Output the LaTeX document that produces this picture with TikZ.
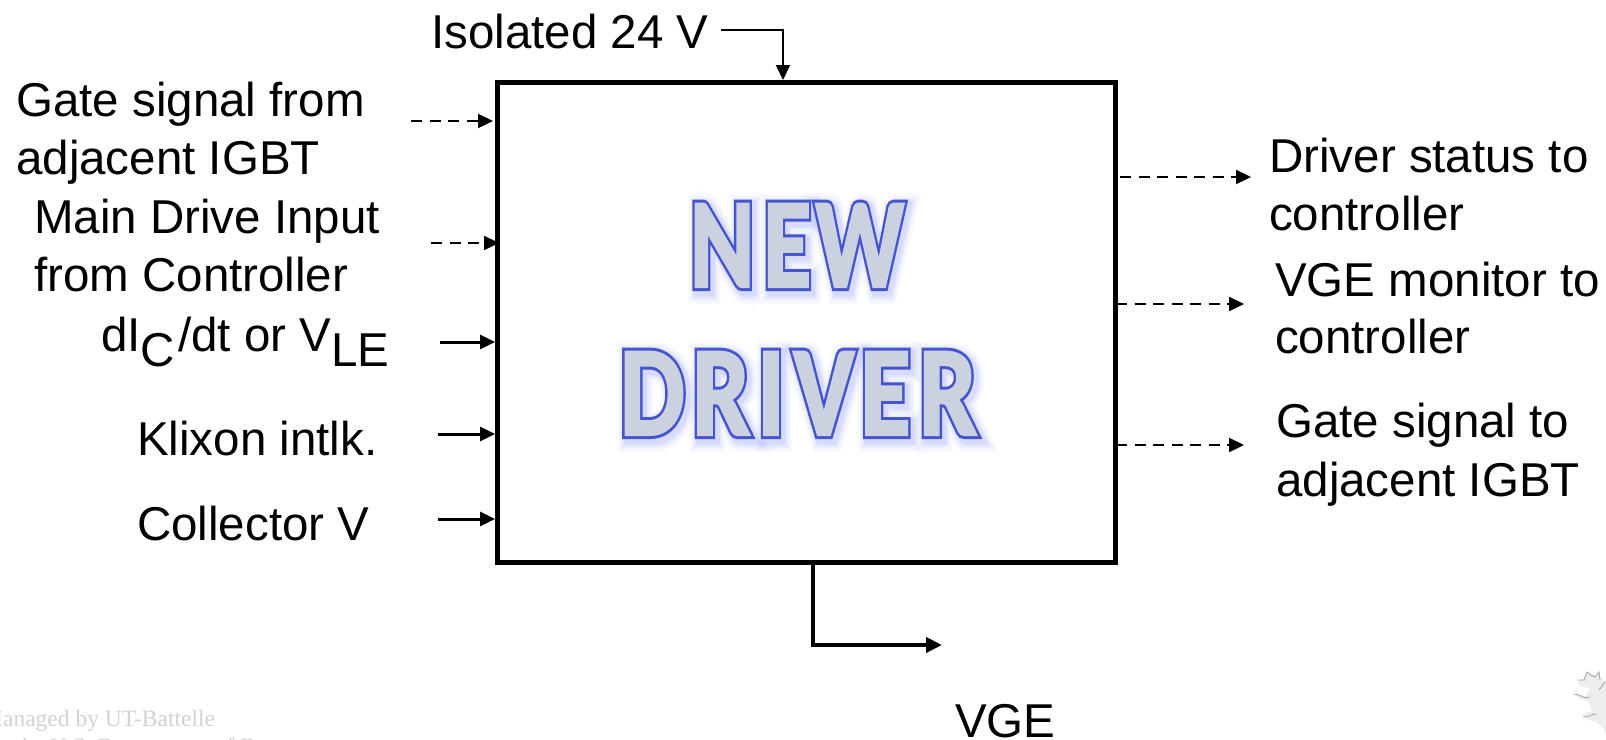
\documentclass[tikz,border=0pt]{standalone}
\usepackage{fontspec}
\setmainfont{Liberation Sans}
\newfontfamily\serfont{Liberation Serif}
\newfontfamily\bigfont{Carlito}
\usetikzlibrary{arrows.meta}
\newcommand{\outl}[2]{\fontsize{127pt}{127pt}\bigfont\bfseries\selectfont\special{pdf:code q 2 Tr 0 j 4 M #2 w #1}}
\newcommand{\outlend}{\special{pdf:code Q}}
\newcommand{\wordnew}{N\kern12pt E\kern6pt W}
\newcommand{\worddriver}{D\kern10pt R\kern9pt I\kern11pt V\kern8pt E\kern11pt R}
\tikzset{
  lab/.style={anchor=base west,inner sep=0pt,font=\fontsize{47.5pt}{47.5pt}\selectfont,text=black},
  thin solid arrow/.style={line width=2pt,-{Triangle[length=15pt,width=14pt]}},
  solid arrow/.style={line width=3pt,-{Triangle[length=15pt,width=14pt]}},
  dash arrow/.style={line width=2.3pt,dash pattern=on 11pt off 7.5pt,-{Triangle[length=15pt,width=14pt]}},
  big/.style={anchor=base,inner sep=0pt},
  foot/.style={anchor=base west,inner sep=0pt,text=wm,font=\serfont\fontsize{23.5pt}{23.5pt}\selectfont},
}
\definecolor{wm}{HTML}{D2D2D2}
\begin{document}
\begin{tikzpicture}[x=1pt,y=-1pt]
\useasboundingbox (0,0) rectangle (1606,739);
\clip (0,0) rectangle (1606,739);
% driver box
\node[draw=black,line width=5pt,fill=white,outer sep=0pt,minimum width=618pt,minimum height=480pt,inner sep=0pt,anchor=north west] (box) at (497,82) {};
% glow
\foreach \w/\o in {28/0.04,22/0.05,17/0.07,13/0.09}{
  \node[big,opacity=\o] (g1\w) at (800,290) {\scalebox{.768}[1]{\outl{0.35 0.40 1 rg 0.35 0.40 1 RG}{\w}\wordnew\outlend}};
  \node[big,opacity=\o] (g2\w) at (801.5,438) {\scalebox{.806}[1]{\outl{0.35 0.40 1 rg 0.35 0.40 1 RG}{\w}\worddriver\outlend}};
}
% outline and inner face of the letters
\node[big] (newo) at (797,286.5) {\scalebox{.768}[1]{\outl{0.27 0.33 0.82 rg 0.27 0.33 0.82 RG}{9}\wordnew\outlend}};
\node[big] (new) at (797,286.5) {\scalebox{.768}[1]{\outl{0.80 0.82 0.88 rg 0.80 0.82 0.88 RG}{3}\wordnew\outlend}};
\node[big] (drivero) at (798.5,434.5) {\scalebox{.806}[1]{\outl{0.27 0.33 0.82 rg 0.27 0.33 0.82 RG}{9}\worddriver\outlend}};
\node[big] (driver) at (798.5,434.5) {\scalebox{.806}[1]{\outl{0.80 0.82 0.88 rg 0.80 0.82 0.88 RG}{3}\worddriver\outlend}};
% labels
\node[lab] (iso) at (431,48) {Isolated 24 V};
\node[lab] (gate1) at (16,116) {Gate signal from};
\node[lab] (gate2) at (16,174) {adjacent IGBT};
\node[lab] (main1) at (34,233.5) {Main Drive Input};
\node[lab] (main2) at (34,291) {from Controller};
\node[lab] (dic) at (101,351) {dI\raisebox{-15pt}{C}\kern3pt/dt or V\raisebox{-15pt}{LE}};
\node[lab] (klix) at (137,455) {Klixon intlk.};
\node[lab] (coll) at (137,540) {Collector V};
\node[lab] (stat1) at (1269,172) {Driver status to};
\node[lab] (stat2) at (1269,230.5) {controller};
\node[lab] (mon1) at (1275,296) {VGE monitor to};
\node[lab] (mon2) at (1275,353.5) {controller};
\node[lab] (adj1) at (1276,437) {Gate signal to};
\node[lab] (adj2) at (1276,496) {adjacent IGBT};
\node[lab] (vge) at (955,737) {VGE};
% coordinates
\coordinate (a1) at (721,30); \coordinate (a2) at (783,30); \coordinate (a3) at (783,80);
\coordinate (b1) at (411,121); \coordinate (b2) at (493,121);
\coordinate (c1) at (431,243); \coordinate (c2) at (499,243);
\coordinate (d1) at (440,342); \coordinate (d2) at (495,342);
\coordinate (e1) at (438,434); \coordinate (e2) at (495,434);
\coordinate (f1) at (438,519); \coordinate (f2) at (495,519);
\coordinate (g1) at (1120,177); \coordinate (g2) at (1251,177);
\coordinate (h1) at (1116,304); \coordinate (h2) at (1244,304);
\coordinate (i1) at (1116,445); \coordinate (i2) at (1244,445);
\coordinate (j1) at (813,562); \coordinate (j2) at (813,645); \coordinate (j3) at (942,645);
% connectors
\draw[thin solid arrow] (a1) -- (a2) -- (a3);
\draw[dash arrow] (b1) -- (b2);
\draw[dash arrow] (c1) -- (c2);
\draw[solid arrow] (d1) -- (d2);
\draw[solid arrow] (e1) -- (e2);
\draw[solid arrow] (f1) -- (f2);
\draw[dash arrow] (g1) -- (g2);
\draw[dash arrow] (h1) -- (h2);
\draw[dash arrow] (i1) -- (i2);
\draw[line width=4.5pt,-{Triangle[length=16pt,width=15pt]}] (j1) -- (j2) -- (j3);
% footer
\node[foot] (fm1) at (-18,726) {Managed by UT-Battelle};
\node[foot] (fm2) at (-18,754) {for the U.S. Department of Energy};
% leaf
\fill[black!7] (1587,672) -- (1591,675) -- (1595,677) -- (1599,672) -- (1600,678) -- (1606,681) -- (1606,735) -- (1603,728) -- (1596,722) -- (1585,719) -- (1583,714) -- (1592,711) -- (1589,703) -- (1578,698) -- (1574,694) -- (1586,696) -- (1590,688) -- (1579,686) -- (1578,680) -- (1584,680) -- cycle;
\draw[black!40,line width=.7pt] (1578,680) -- (1584,680) -- (1587,672) -- (1591,675) -- (1595,677) -- (1599,672) -- (1600,680);
\draw[black!40,line width=.7pt] (1574,694) .. controls (1580,694) and (1585,700) .. (1590,697);
\draw[black!40,line width=.7pt] (1583,717) .. controls (1590,717) and (1592,714) .. (1596,714);
\draw[black!40,line width=.7pt] (1599,690) -- (1605,682);
\end{tikzpicture}
\end{document}
